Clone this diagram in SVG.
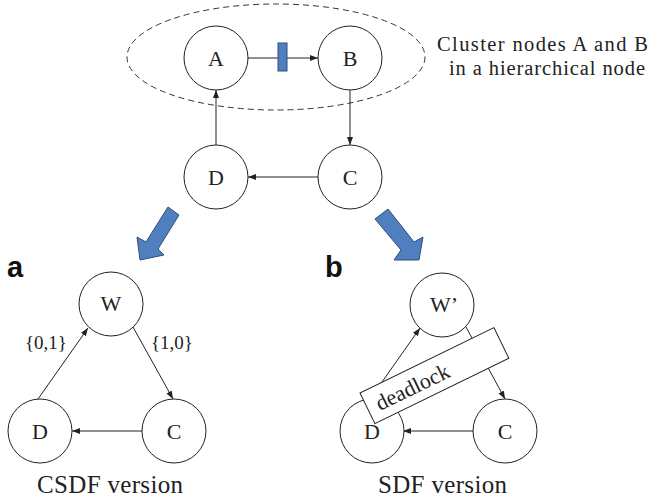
<svg xmlns="http://www.w3.org/2000/svg" width="649" height="499" viewBox="0 0 649 499">
<style>
.node{fill:#fff;stroke:#222;stroke-width:1}
.lbl{font-family:"Liberation Serif","Times New Roman",serif;font-size:22px;fill:#222;text-anchor:middle}
.edge{stroke:#222;stroke-width:1;fill:none}
.cap{font-family:"Liberation Serif","Times New Roman",serif;fill:#222}
.tag{font-family:"Liberation Sans",Arial,sans-serif;font-weight:bold;font-size:29px;fill:#111}
.blue{fill:#4f7fbe;stroke:#2f4f7a;stroke-width:1}
</style>
<defs>
<marker id="ah" markerUnits="userSpaceOnUse" markerWidth="9" markerHeight="7" refX="8" refY="3" orient="auto">
<path d="M0,0 L8,3 L0,6 z" fill="#222"/>
</marker>
</defs>
<rect width="649" height="499" fill="#fff"/>

<g id="cluster">
<ellipse cx="276" cy="57" rx="149" ry="53" fill="none" stroke="#333" stroke-width="1" stroke-dasharray="6,4"/>
<text class="cap" x="437" y="51" font-size="20.5" textLength="211">Cluster nodes A and B</text>
<text class="cap" x="449" y="75" font-size="20.5" textLength="196">in a hierarchical node</text>
</g>

<g id="connectors">
<line class="edge" x1="248" y1="58" x2="318" y2="58" marker-end="url(#ah)"/>
<line class="edge" x1="350" y1="90" x2="350" y2="145" marker-end="url(#ah)"/>
<line class="edge" x1="318" y1="177" x2="248" y2="177" marker-end="url(#ah)"/>
<line class="edge" x1="216" y1="145" x2="216" y2="90" marker-end="url(#ah)"/>
<line class="edge" x1="38" y1="399" x2="88" y2="328" marker-end="url(#ah)"/>
<line class="edge" x1="133" y1="327" x2="173" y2="399" marker-end="url(#ah)"/>
<line class="edge" x1="142" y1="431" x2="72" y2="431" marker-end="url(#ah)"/>
<line class="edge" x1="370" y1="399" x2="420" y2="328" marker-end="url(#ah)"/>
<line class="edge" x1="466" y1="327" x2="505" y2="399" marker-end="url(#ah)"/>
<line class="edge" x1="473" y1="431" x2="403" y2="431" marker-end="url(#ah)"/>
<rect class="blue" x="278" y="43" width="9" height="28"/>
</g>

<g id="A"><circle class="node" cx="216" cy="58" r="32"/><text class="lbl" x="216" y="65.5">A</text></g>
<g id="B"><circle class="node" cx="350" cy="58" r="32"/><text class="lbl" x="350" y="65.5">B</text></g>
<g id="C"><circle class="node" cx="350" cy="177" r="32"/><text class="lbl" x="350" y="184.5">C</text></g>
<g id="D"><circle class="node" cx="216" cy="177" r="32"/><text class="lbl" x="216" y="184.5">D</text></g>

<g id="arrow-a"><polygon class="blue" points="168,207 179,215 158,249 164,255 140,260 137,237 146,242"/></g>
<g id="arrow-b"><polygon class="blue" points="388,209 414,242 423,237 419,260 394,260 401,250 375,219"/></g>

<text class="tag" x="7" y="277">a</text>
<text class="tag" x="325" y="277">b</text>

<g id="W"><circle class="node" cx="111" cy="304" r="32"/><text class="lbl" x="111" y="311" font-size="20">W</text></g>
<g id="D1"><circle class="node" cx="40" cy="431" r="32"/><text class="lbl" x="40" y="438.5">D</text></g>
<g id="C1"><circle class="node" cx="174" cy="431" r="32"/><text class="lbl" x="174" y="438.5">C</text></g>
<text class="cap" x="25" y="349" font-size="19">{0,1}</text>
<text class="cap" x="151" y="349" font-size="19">{1,0}</text>
<text class="cap" x="37" y="493" font-size="25" textLength="146">CSDF version</text>

<g id="W2"><circle class="node" cx="442" cy="305" r="32"/><text class="lbl" x="444" y="312" font-size="20">W’</text></g>
<g id="D2"><circle class="node" cx="372" cy="431" r="32"/><text class="lbl" x="372" y="438.5">D</text></g>
<g id="C2"><circle class="node" cx="505" cy="431" r="32"/><text class="lbl" x="505" y="438.5">C</text></g>
<g id="deadlock" transform="translate(360,393) rotate(-26)">
<rect x="0" y="0" width="149" height="34" fill="#fff" stroke="#222" stroke-width="1"/>
<text class="cap" x="10" y="25" font-size="22">deadlock</text>
</g>
<text class="cap" x="378" y="493" font-size="25" textLength="129">SDF version</text>
</svg>
